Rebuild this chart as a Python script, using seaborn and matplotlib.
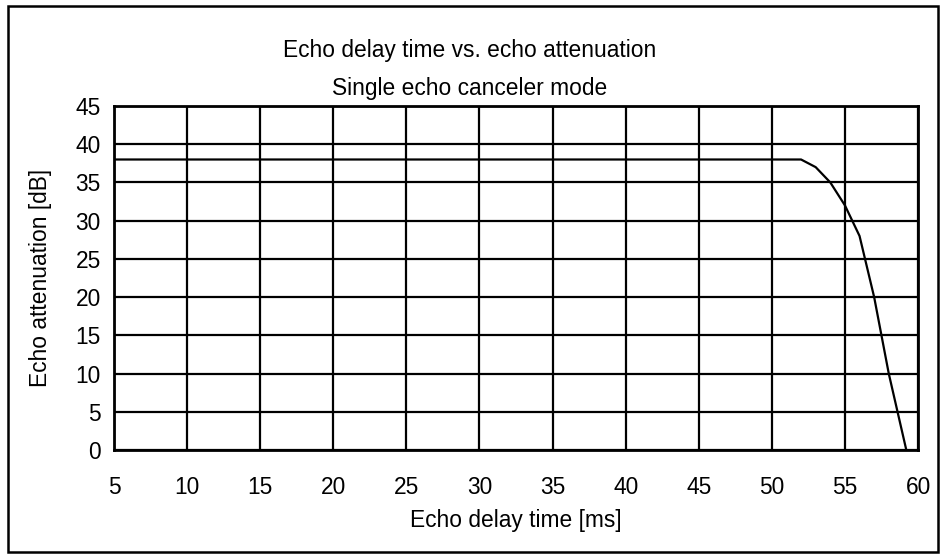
import matplotlib
matplotlib.use('Agg')
import matplotlib.pyplot as plt
import seaborn as sns
import pandas as pd
from matplotlib.patches import Rectangle

# Valores
delay_ms = [5, 52, 53, 54, 55, 56, 57, 58, 59.2]
attenuation_db = [38, 38, 37, 35, 32, 28, 20, 10, 0]
x_ticks = [5, 10, 15, 20, 25, 30, 35, 40, 45, 50, 55, 60]
y_ticks = [0, 5, 10, 15, 20, 25, 30, 35, 40, 45]

df = pd.DataFrame({'delay': delay_ms, 'att': attenuation_db})

sns.set_style('white')
plt.rcParams['font.family'] = ['Liberation Sans', 'DejaVu Sans']
plt.rcParams['text.color'] = 'black'
plt.rcParams['axes.labelcolor'] = 'black'
plt.rcParams['xtick.color'] = 'black'
plt.rcParams['ytick.color'] = 'black'

fs = 16.4

fig = plt.figure(figsize=(9.4, 5.54), dpi=100)
ax = fig.add_axes([0.1213, 0.1877, 0.8553, 0.621])

sns.lineplot(data=df, x='delay', y='att', color='black', linewidth=1.6, ax=ax)

ax.set_xlim(5, 60)
ax.set_ylim(0, 45)
ax.set_xticks(x_ticks)
ax.set_yticks(y_ticks)
ax.grid(True, color='black', linewidth=1.6)
ax.tick_params(axis='x', length=0, labelsize=fs, pad=19)
ax.tick_params(axis='y', length=0, labelsize=fs, pad=9.5)
for s in ax.spines.values():
    s.set_color('black')
    s.set_linewidth(2)

ax.set_xlabel('Echo delay time [ms]', fontsize=fs, labelpad=7)
ax.set_ylabel('Echo attenuation [dB]', fontsize=fs, labelpad=17)

fig.text(0.5, 0.909, 'Echo delay time vs. echo attenuation', ha='center', va='center', fontsize=fs)
fig.text(0.5, 0.841, 'Single echo canceler mode', ha='center', va='center', fontsize=fs)

# Moldura externa
fig.patches.append(Rectangle((0.008, 0.003), 0.99, 0.986, transform=fig.transFigure,
                             fill=False, edgecolor='black', linewidth=1.8))

fig.savefig('out.png', dpi=100)
